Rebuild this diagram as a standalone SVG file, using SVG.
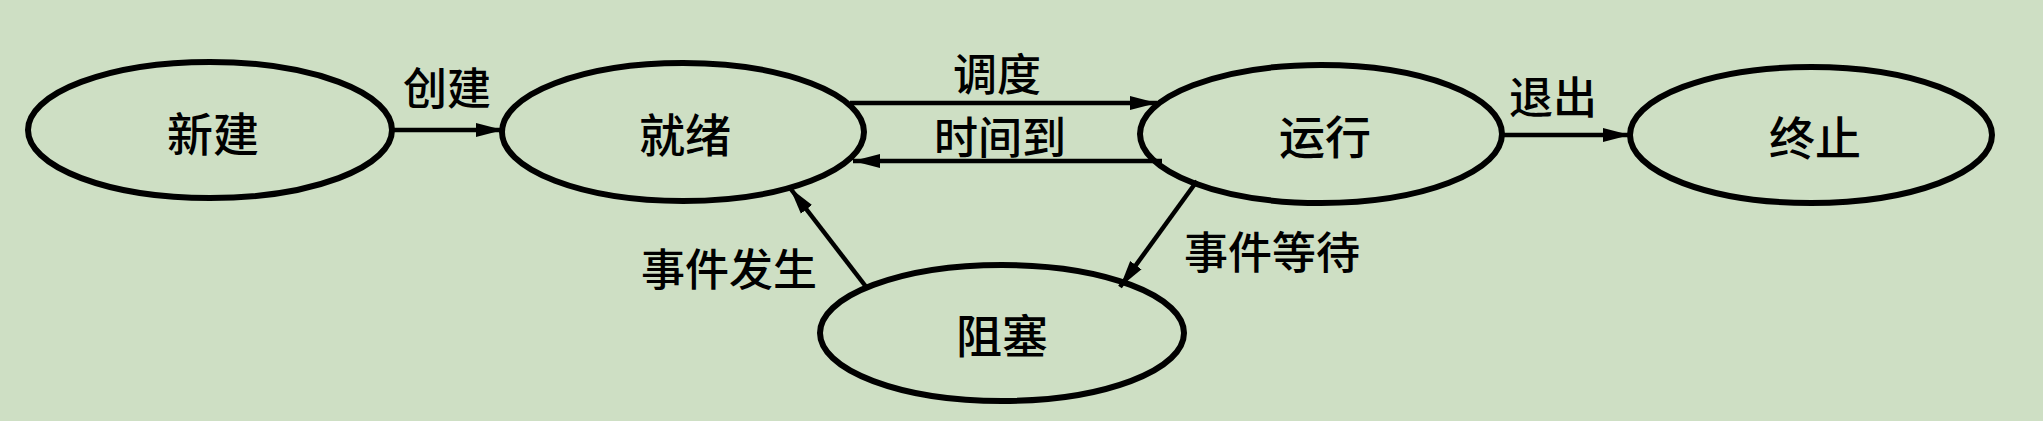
<svg xmlns="http://www.w3.org/2000/svg" width="2043" height="421" viewBox="0 0 2043 421">
<style>
.bg{fill:#cedfc4}
.node ellipse{fill:none;stroke:#000;stroke-width:6}
text{font-family:"Noto Sans CJK SC","Liberation Serif",serif;fill:#000;text-anchor:middle;dominant-baseline:central;font-weight:500}
.nt{font-size:46px}
.lt{font-size:44px}
.edge{stroke:#000;stroke-width:4.5;fill:none;marker-end:url(#arr)}
</style>
<defs>
<marker id="arr" markerUnits="userSpaceOnUse" markerWidth="28" markerHeight="16" refX="27" refY="8" orient="auto">
<path d="M0,1 L27,8 L0,15 z" fill="#000"/>
</marker>
</defs>
<rect class="bg" x="0" y="0" width="2043" height="421"/>
<g id="n-new" class="node"><ellipse cx="210" cy="130" rx="182" ry="68"/><text class="nt" x="213" y="131">新建</text></g>
<g id="n-ready" class="node"><ellipse cx="683" cy="132" rx="181" ry="69"/><text class="nt" x="685" y="132">就绪</text></g>
<g id="n-run" class="node"><ellipse cx="1321" cy="134" rx="181" ry="69"/><text class="nt" x="1325" y="134">运行</text></g>
<g id="n-end" class="node"><ellipse cx="1811" cy="135" rx="181" ry="68"/><text class="nt" x="1815" y="135">终止</text></g>
<g id="n-block" class="node"><ellipse cx="1002" cy="333" rx="182" ry="68"/><text class="nt" x="1002" y="333">阻塞</text></g>
<g id="edges">
<line class="edge" x1="850" y1="103" x2="1157" y2="103"/>
<line class="edge" x1="1162" y1="161" x2="853" y2="161"/>
<line class="edge" x1="392" y1="130" x2="503" y2="130"/>
<line class="edge" x1="1503" y1="135" x2="1630" y2="135"/>
<line class="edge" x1="1197" y1="181" x2="1120" y2="287"/>
<line class="edge" x1="867" y1="288" x2="790" y2="188"/>
<text class="lt" x="447" y="86">创建</text>
<text class="lt" x="997" y="72">调度</text>
<text class="lt" x="1000" y="135">时间到</text>
<text class="lt" x="1553" y="95">退出</text>
<text class="lt" x="1272" y="250">事件等待</text>
<text class="lt" x="729" y="267">事件发生</text>
</g>
</svg>
